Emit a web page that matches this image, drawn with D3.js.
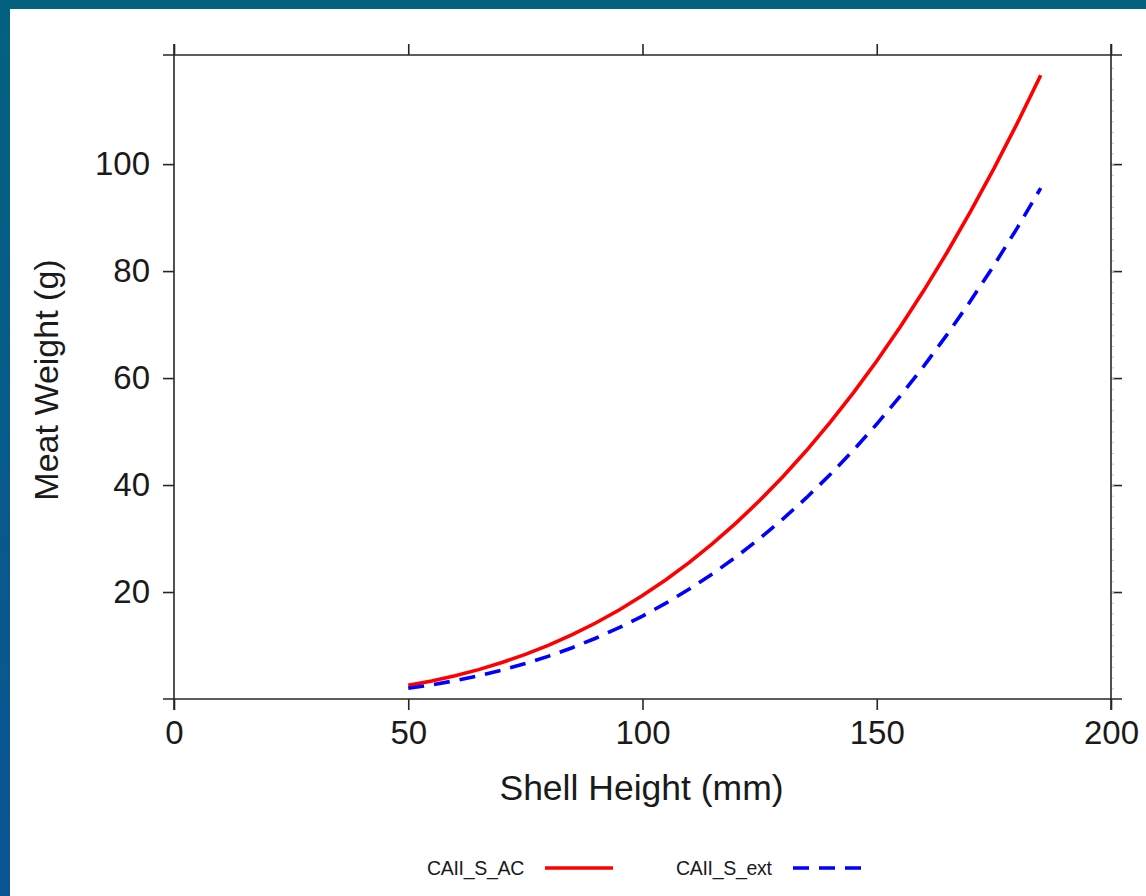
<!DOCTYPE html>
<html>
<head>
<meta charset="utf-8">
<script src="https://cdn.jsdelivr.net/npm/d3@7"></script>
<style>
  html, body { margin: 0; padding: 0; background: #fff; }
  svg { display: block; }
  text { font-family: "Liberation Sans", Arial, sans-serif; fill: #1a1a1a; }
</style>
</head>
<body>
<svg id="chart" width="1146" height="896"></svg>
<script>
// Shell height (mm) at which meat weight is predicted
const shellHeight = [50, 55, 60, 65, 70, 75, 80, 85, 90, 95, 100, 105, 110, 115, 120,
  125, 130, 135, 140, 145, 150, 155, 160, 165, 170, 175, 180, 185];
// Predicted meat weight (g), model CAII_S_AC
const weightAC = [2.55, 3.37, 4.34, 5.49, 6.82, 8.34, 10.07, 12.02, 14.21, 16.64, 19.33,
  22.29, 25.53, 29.08, 32.92, 37.10, 41.60, 46.45, 51.66, 57.24, 63.20, 69.55, 76.31,
  83.48, 91.10, 99.15, 107.66, 116.62];
// Predicted meat weight (g), model CAII_S_ext
const weightExt = [2.00, 2.65, 3.43, 4.34, 5.41, 6.63, 8.02, 9.59, 11.36, 13.33, 15.51,
  17.92, 20.55, 23.44, 26.58, 29.99, 33.67, 37.64, 41.91, 46.49, 51.40, 56.62, 62.20,
  68.11, 74.40, 81.05, 88.08, 95.51];

const seriesNames = ["CAII_S_AC", "CAII_S_ext"];
const seriesColors = ["#ff0000", "#0000ff"];
const xTicks = [0, 50, 100, 150, 200];
const yTicks = [20, 40, 60, 80, 100];
const xTitle = "Shell Height (mm)";
const yTitle = "Meat Weight (g)";

const svg = d3.select("#chart");
const W = 1146, H = 896;

// Window frame: teal band on top, teal-to-blue band down the left side
const defs = svg.append("defs");
const grad = defs.append("linearGradient").attr("id", "sideband")
  .attr("x1", 0).attr("y1", 0).attr("x2", 0).attr("y2", 1);
grad.append("stop").attr("offset", "0%").attr("stop-color", "#03617f");
grad.append("stop").attr("offset", "100%").attr("stop-color", "#0b5595");
svg.append("rect").attr("x", 0).attr("y", 0).attr("width", W).attr("height", H).attr("fill", "#fff");
svg.append("rect").attr("x", 0).attr("y", 0).attr("width", 10).attr("height", H).attr("fill", "url(#sideband)");
svg.append("rect").attr("x", 0).attr("y", 0).attr("width", W).attr("height", 9).attr("fill", "#03617f");

const plot = { left: 174, right: 1111, top: 55, bottom: 699 };
const tickLen = 11;

const x = d3.scaleLinear().domain([0, 200]).range([plot.left, plot.right]);
const y = d3.scaleLinear().domain([0, 120.4]).range([plot.bottom, plot.top]);

const axisColor = "#262626";

function styleAxis(g) {
  g.select(".domain").remove();
  g.selectAll(".tick line").attr("stroke", axisColor).attr("stroke-width", 1.6);
  g.selectAll(".tick text").attr("font-size", 33).attr("fill", "#1a1a1a")
    .style("font-family", '"Liberation Sans", Arial, sans-serif');
}

// Bottom axis with labels
svg.append("g").attr("transform", `translate(0,${plot.bottom})`)
  .call(d3.axisBottom(x).tickValues(xTicks).tickSize(tickLen).tickPadding(11).tickFormat(d3.format("d")))
  .call(styleAxis);
// Top axis, marks only
svg.append("g").attr("transform", `translate(0,${plot.top})`)
  .call(d3.axisTop(x).tickValues(xTicks).tickSize(tickLen).tickFormat(""))
  .call(styleAxis);
// Left axis with labels
svg.append("g").attr("transform", `translate(${plot.left},0)`)
  .call(d3.axisLeft(y).tickValues(yTicks).tickSize(tickLen).tickPadding(13).tickFormat(d3.format("d")))
  .call(styleAxis);
// Right axis, marks only
svg.append("g").attr("transform", `translate(${plot.right},0)`)
  .call(d3.axisRight(y).tickValues(yTicks).tickSize(tickLen).tickFormat(""))
  .call(styleAxis);
// Faint minor marks along the right edge
svg.append("g").attr("transform", `translate(${plot.right},0)`)
  .call(d3.axisRight(y).tickValues(d3.range(2, 120, 2)).tickSize(3).tickFormat(""))
  .call(g => {
    g.select(".domain").remove();
    g.selectAll(".tick line").attr("stroke", "#c8c8c8").attr("stroke-width", 1);
  });

// Plot frame, each side running one tick length past the corners
const frame = svg.append("g").attr("stroke", axisColor).attr("stroke-width", 1.6);
[plot.top, plot.bottom].forEach(yy => frame.append("line")
  .attr("x1", plot.left - tickLen).attr("x2", plot.right + tickLen)
  .attr("y1", yy).attr("y2", yy));
[plot.left, plot.right].forEach(xx => frame.append("line")
  .attr("y1", plot.top - tickLen).attr("y2", plot.bottom + tickLen)
  .attr("x1", xx).attr("x2", xx));

// Curves
const line = d3.line().x(d => x(d[0])).y(d => y(d[1]));
const seriesValues = [weightAC, weightExt];
const dashes = [null, "16,10"];
seriesValues.forEach((vals, i) => {
  svg.append("path")
    .datum(shellHeight.map((h, j) => [h, vals[j]]))
    .attr("fill", "none")
    .attr("stroke", seriesColors[i])
    .attr("stroke-width", 3.6)
    .attr("stroke-dasharray", dashes[i])
    .attr("d", line);
});

// Axis titles
svg.append("text")
  .attr("x", (plot.left + plot.right) / 2 - 1).attr("y", 800)
  .attr("text-anchor", "middle").attr("font-size", 35.5)
  .text(xTitle);
svg.append("text")
  .attr("transform", `translate(58,${(plot.top + plot.bottom) / 2 + 3}) rotate(-90)`)
  .attr("text-anchor", "middle").attr("font-size", 34)
  .text(yTitle);

// Legend
const legendItems = [
  { name: seriesNames[0], color: seriesColors[0], dash: dashes[0], tx: 427, lx: 545 },
  { name: seriesNames[1], color: seriesColors[1], dash: dashes[1], tx: 676, lx: 793 }
];
const legend = svg.append("g");
legendItems.forEach(it => {
  legend.append("text").attr("x", it.tx).attr("y", 875)
    .attr("font-size", 19.5).attr("letter-spacing", -0.3)
    .text(it.name);
  legend.append("line")
    .attr("x1", it.lx).attr("x2", it.lx + 68)
    .attr("y1", 868).attr("y2", 868)
    .attr("stroke", it.color).attr("stroke-width", 3.6)
    .attr("stroke-dasharray", it.dash);
});
</script>
</body>
</html>
